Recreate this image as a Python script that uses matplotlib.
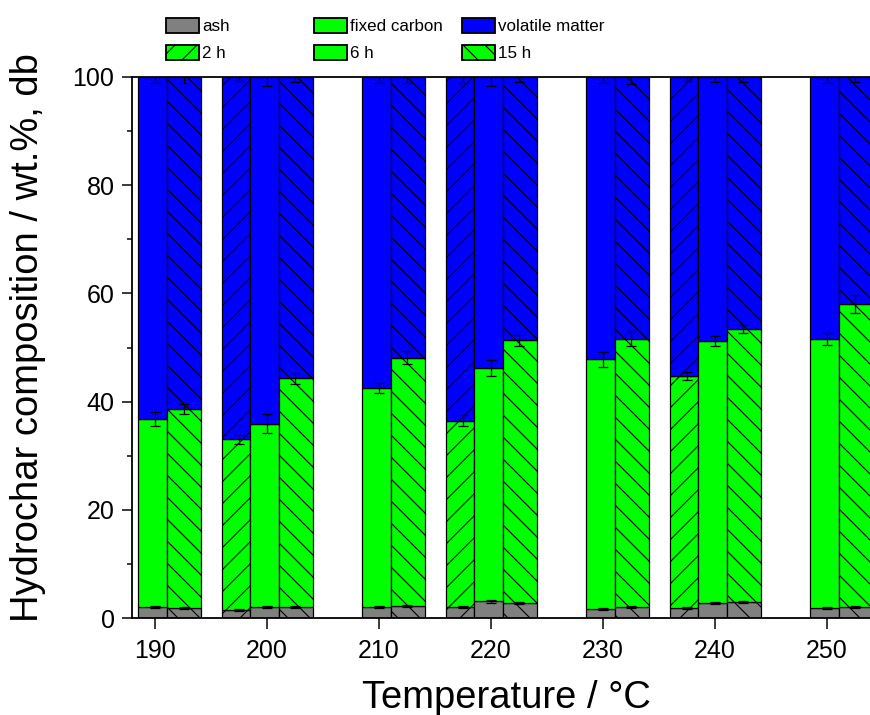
import matplotlib
matplotlib.use("Agg")
import matplotlib.pyplot as plt
from matplotlib import font_manager
from matplotlib.patches import Patch
from matplotlib.ticker import MultipleLocator

# the figure is laid out in pixels; 132 dpi gives the hatch spacing we want
DPI = 132


def pt(px):
    return px * 72 / DPI


plt.rcParams['font.family'] = ['Liberation Sans', 'DejaVu Sans']
plt.rcParams['hatch.linewidth'] = pt(1.1)
plt.rcParams['hatch.color'] = 'black'

# proximate analysis of the hydrochars (wt.%, dry basis)
temps_2h = [200, 220, 240]
ash_2h = [1.5, 2.0, 1.9]
fc_2h = [31.5, 34.5, 42.8]
vm_2h = [67.0, 63.5, 55.3]
ash_err_2h = [0.2, 0.2, 0.2]
fc_err_2h = [0.9, 1.1, 0.7]
vm_err_2h = [0.8, 1.2, 0.8]

temps_6h = [190, 200, 210, 220, 230, 240, 250]
ash_6h = [2.0, 2.1, 2.0, 3.1, 1.7, 2.8, 1.9]
fc_6h = [34.7, 33.8, 40.5, 43.1, 46.1, 48.4, 49.7]
vm_6h = [63.3, 64.1, 57.5, 53.8, 52.2, 48.8, 48.4]
ash_err_6h = [0.2, 0.2, 0.2, 0.3, 0.2, 0.2, 0.2]
fc_err_6h = [1.3, 1.75, 1.0, 1.5, 1.35, 0.9, 1.05]
vm_err_6h = [1.2, 1.7, 1.1, 1.6, 1.2, 0.9, 1.1]

temps_15h = [190, 200, 210, 220, 230, 240, 250]
ash_15h = [1.8, 2.1, 2.2, 2.8, 2.0, 2.9, 2.0]
fc_15h = [36.8, 42.2, 45.9, 48.5, 49.6, 50.5, 56.0]
vm_15h = [61.4, 55.7, 51.9, 48.7, 48.4, 46.6, 42.0]
ash_err_15h = [0.2, 0.2, 0.2, 0.2, 0.2, 0.2, 0.2]
fc_err_15h = [0.9, 1.0, 1.2, 1.0, 1.4, 0.75, 1.7]
vm_err_15h = [1.1, 1.0, 1.1, 1.0, 1.3, 0.9, 1.0]

ASH = '#808080'
FC = '#00ff00'
VM = '#0000ff'

fig = plt.figure(figsize=(870 / DPI, 715 / DPI), dpi=DPI)
ax = fig.add_axes([132 / 870, 97 / 715, 748 / 870, 541 / 715])

EDGE_W = pt(1.25)


def stacked(temps, ash, fc, vm, errs, left, width, err_shift, hatch):
    x = [t + left for t in temps]
    ax.bar(x, ash, width, align='edge', color=ASH, edgecolor='black',
           linewidth=EDGE_W, hatch=hatch)
    ax.bar(x, fc, width, bottom=ash, align='edge', color=FC,
           edgecolor='black', linewidth=EDGE_W, hatch=hatch)
    top_fc = [a + f for a, f in zip(ash, fc)]
    ax.bar(x, vm, width, bottom=top_fc, align='edge', color=VM,
           edgecolor='black', linewidth=EDGE_W, hatch=hatch)
    top_vm = [t + v for t, v in zip(top_fc, vm)]
    xe = [t + err_shift for t in temps]
    for y, e in zip((ash, top_fc, top_vm), errs):
        ax.errorbar(xe, y, yerr=e, fmt='none', ecolor='black',
                    elinewidth=EDGE_W, capsize=pt(5), capthick=EDGE_W,
                    zorder=5)


stacked(temps_2h, ash_2h, fc_2h, vm_2h, (ash_err_2h, fc_err_2h, vm_err_2h),
        -4.0, 2.5, -2.5, '//')
stacked(temps_6h, ash_6h, fc_6h, vm_6h, (ash_err_6h, fc_err_6h, vm_err_6h),
        -1.5, 2.55, 0.0, None)
stacked(temps_15h, ash_15h, fc_15h, vm_15h,
        (ash_err_15h, fc_err_15h, vm_err_15h), 1.05, 3.05, 2.55, '\\\\')

ax.set_xlim(187.95, 254.75)
ax.set_ylim(0, 100)
ax.set_xticks(temps_6h)
ax.yaxis.set_major_locator(MultipleLocator(20))
ax.yaxis.set_minor_locator(MultipleLocator(10))
ax.tick_params(which='major', direction='out', length=pt(10.5),
               width=pt(1.5), labelsize=pt(25))
ax.tick_params(which='minor', direction='out', length=pt(5.5),
               width=pt(1.5))
ax.tick_params(axis='x', which='major', pad=pt(10))
ax.tick_params(axis='y', which='major', pad=pt(7))
ax.tick_params(axis='x', which='minor', bottom=False)
ax.spines['right'].set_visible(False)
for s in ('left', 'top', 'bottom'):
    ax.spines[s].set_linewidth(pt(1.8))

ax.set_xlabel('Temperature / °C', fontsize=pt(38.2), labelpad=pt(18))
ax.set_ylabel('Hydrochar composition / wt.%, db', fontsize=pt(38.2))
ax.yaxis.set_label_coords(-0.115, 0.518)

# legend: three columns of two entries each
names = {f.name for f in font_manager.fontManager.ttflist}
if 'Liberation Sans Narrow' in names:
    leg_font = {'family': 'Liberation Sans Narrow', 'size': pt(25)}
else:
    leg_font = {'family': 'Liberation Sans', 'size': pt(17)}

columns = [
    [(Patch(facecolor=ASH, edgecolor='black'), 'ash'),
     (Patch(facecolor=FC, edgecolor='black', hatch='//'), '2 h')],
    [(Patch(facecolor=FC, edgecolor='black'), 'fixed carbon'),
     (Patch(facecolor=FC, edgecolor='black'), '6 h')],
    [(Patch(facecolor=VM, edgecolor='black'), 'volatile matter'),
     (Patch(facecolor=FC, edgecolor='black', hatch='\\\\'), '15 h')],
]
for i, col in enumerate(columns):
    handles = [h for h, _ in col]
    labels = [l for _, l in col]
    fig.legend(handles, labels, loc='upper left',
               bbox_to_anchor=((166 + 148 * i) / 870, 1 - 18 / 715),
               frameon=False, prop=leg_font, borderpad=0, borderaxespad=0,
               handlelength=1.95, handleheight=1.0,
               handletextpad=0.18, labelspacing=0.6)

fig.savefig('out.png', dpi=DPI)
